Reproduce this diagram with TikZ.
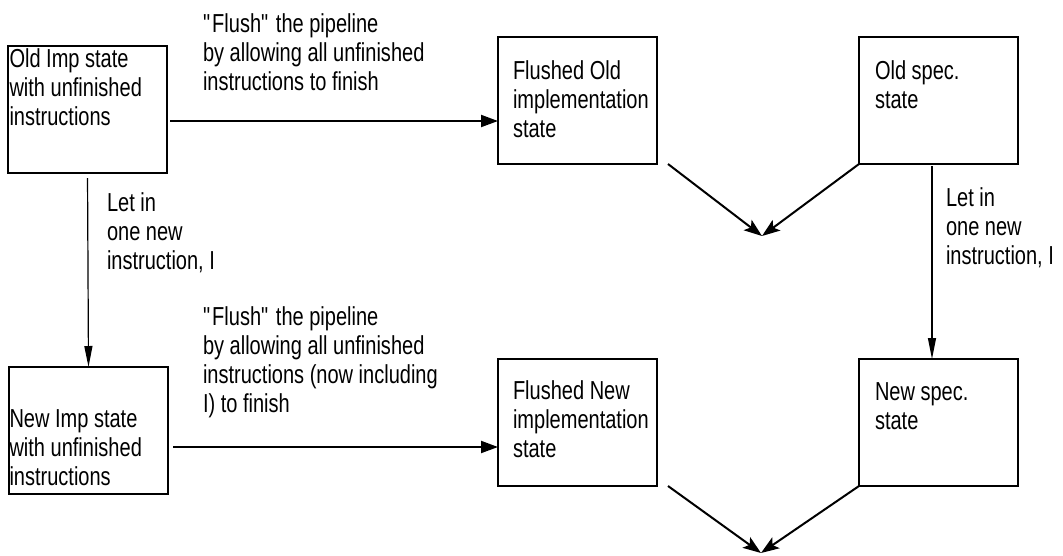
\documentclass[tikz,border=0pt]{standalone}
\usepackage{fontspec}
\setmainfont{Liberation Sans}[FakeStretch=0.77]
\usetikzlibrary{arrows.meta}
\begin{document}
\begin{tikzpicture}[x=1pt,y=-1pt,
  box/.style={draw, line width=1.8pt, minimum width=159pt, minimum height=127pt,
    inner sep=0pt, outer sep=0pt, anchor=north west},
  txt/.style={font=\fontsize{26}{29}\selectfont, align=left, inner sep=0pt,
    outer sep=0pt, anchor=north west},
  harr/.style={line width=2pt, -{Triangle[length=17pt,width=12pt]}},
  varr/.style={line width=1.2pt, -{Triangle[length=21pt,width=8pt]}},
  darr/.style={line width=2pt, -{Stealth[length=18pt,width=13pt,inset=4pt]}}
]
\useasboundingbox (0,0) rectangle (1063,555);
% boxes
\node[box] (b1) at (8,46) {};
\node[box] (b2) at (498,37) {};
\node[box] (b3) at (859,37) {};
\node[box] (b4) at (9,367) {};
\node[box] (b5) at (498,359) {};
\node[box] (b6) at (859,359) {};
% box texts (top = first baseline - 20.3)
\node[txt] (t1) at (9.5,47.2) {\strut Old Imp state\\with unfinished\\instructions};
\node[txt] (t2) at (513,58.7) {\strut Flushed Old\\implementation\\state};
\node[txt] (t3) at (875,58.7) {\strut Old spec.\\state};
\node[txt] (t4) at (9.5,406.7) {\strut New Imp state\\with unfinished\\instructions};
\node[txt] (t5) at (513,379.2) {\strut Flushed New\\implementation\\state};
\node[txt] (t6) at (875,379.7) {\strut New spec.\\state};
% labels
\node[txt] (l1) at (203,11.7) {\strut \textquotedbl Flush\textquotedbl{} the pipeline\\by allowing all unfinished\\instructions to finish};
\node[txt] (l2) at (203,304.7) {\strut \textquotedbl Flush\textquotedbl{} the pipeline\\by allowing all unfinished\\instructions (now including\\I) to finish};
\node[txt] (l3) at (107,190.7) {\strut Let in\\one new\\instruction, I};
\node[txt] (l4) at (946,185.7) {\strut Let in\\one new\\instruction, I};
% helper coordinates
\coordinate (h1) at (0,121);
\coordinate (h2) at (0,447);
\coordinate (cR) at (932,0);
\coordinate (v1) at (762,236);
\coordinate (v2) at (761,553);
% connectors
\draw[harr, shorten <=3pt] (b1.east |- h1) -- (b2.west |- h1);
\draw[harr, shorten <=5pt] (b4.east |- h2) -- (b5.west |- h2);
\draw[varr, shorten <=5pt] (b1.south) -- (b4.north);
\draw[varr, shorten <=2pt] (b3.south -| cR) -- (b6.north -| cR);
\draw[darr] ([xshift=11pt]b2.south east) -- (v1);
\draw[darr] (b3.south west) -- (v1);
\draw[darr] ([xshift=11pt]b5.south east) -- (v2);
\draw[darr] (b6.south west) -- (v2);
\end{tikzpicture}
\end{document}
